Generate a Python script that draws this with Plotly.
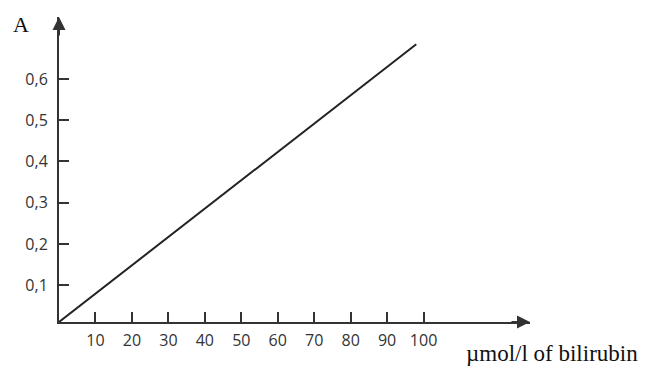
import plotly.graph_objects as go

# Data
conc = [0, 98]                 # µmol/l of bilirubin
absorb = [0.011, 0.684]        # A
x_ticks = [10, 20, 30, 40, 50, 60, 70, 80, 90, 100]
x_tick_labels = [str(v) for v in x_ticks]
y_ticks = [0.1, 0.2, 0.3, 0.4, 0.5, 0.6]
y_tick_labels = ["0,1", "0,2", "0,3", "0,4", "0,5", "0,6"]

OFF = 8  # default page body margin
W, H = 657 - OFF, 367 - OFF
L, R, T, B = 59 - OFF, 127, 17 - OFF, 45
pw, ph = W - L - R, H - T - B
axis_col = "#333333"

fig = go.Figure()
fig.add_trace(go.Scatter(x=conc, y=absorb, mode="lines",
                         line=dict(color="#222222", width=2),
                         hoverinfo="skip", showlegend=False))

def px_x(p):
    return (p - OFF - L) / pw

def px_y(p):
    return (H - B - (p - OFF)) / ph

fig.update_layout(
    width=W, height=H, autosize=False,
    margin=dict(l=L, r=R, t=T, b=B, pad=0),
    paper_bgcolor="white", plot_bgcolor="white",
    showlegend=False,
    xaxis=dict(range=[0, 129.2], showgrid=False, zeroline=False,
               showline=True, linecolor=axis_col, linewidth=2,
               ticks="inside", ticklen=10, tickwidth=2, tickcolor=axis_col,
               tickvals=x_ticks, ticktext=x_tick_labels,
               tickfont=dict(family="Open Sans", size=16, color=axis_col),
               ticklabelstandoff=3, fixedrange=True),
    yaxis=dict(range=[0.011, 0.750], showgrid=False, zeroline=False,
               showline=True, linecolor=axis_col, linewidth=2,
               ticks="inside", ticklen=10, tickwidth=2, tickcolor=axis_col,
               tickvals=y_ticks, ticktext=y_tick_labels,
               tickfont=dict(family="Open Sans", size=16, color=axis_col),
               ticklabelstandoff=6, fixedrange=True),
    annotations=[
        dict(xref="paper", yref="paper", x=1, y=0, ax=-20, ay=0,
             axref="pixel", ayref="pixel", text="", showarrow=True,
             arrowhead=2, arrowsize=1.3, arrowwidth=2, arrowcolor=axis_col),
        dict(xref="paper", yref="paper", x=0, y=1, ax=0, ay=20,
             axref="pixel", ayref="pixel", text="", showarrow=True,
             arrowhead=2, arrowsize=1.3, arrowwidth=2, arrowcolor=axis_col),
        dict(xref="paper", yref="paper", x=px_x(20.5), y=px_y(24.5),
             xanchor="center", yanchor="middle", text="A", showarrow=False,
             font=dict(family="Liberation Serif", size=22, color="#111111")),
        dict(xref="paper", yref="paper", x=px_x(464), y=px_y(353),
             xanchor="left", yanchor="middle", text="µmol/l of bilirubin",
             showarrow=False,
             font=dict(family="Liberation Serif", size=23, color="#111111")),
    ],
)

fig.write_html("out.html")
